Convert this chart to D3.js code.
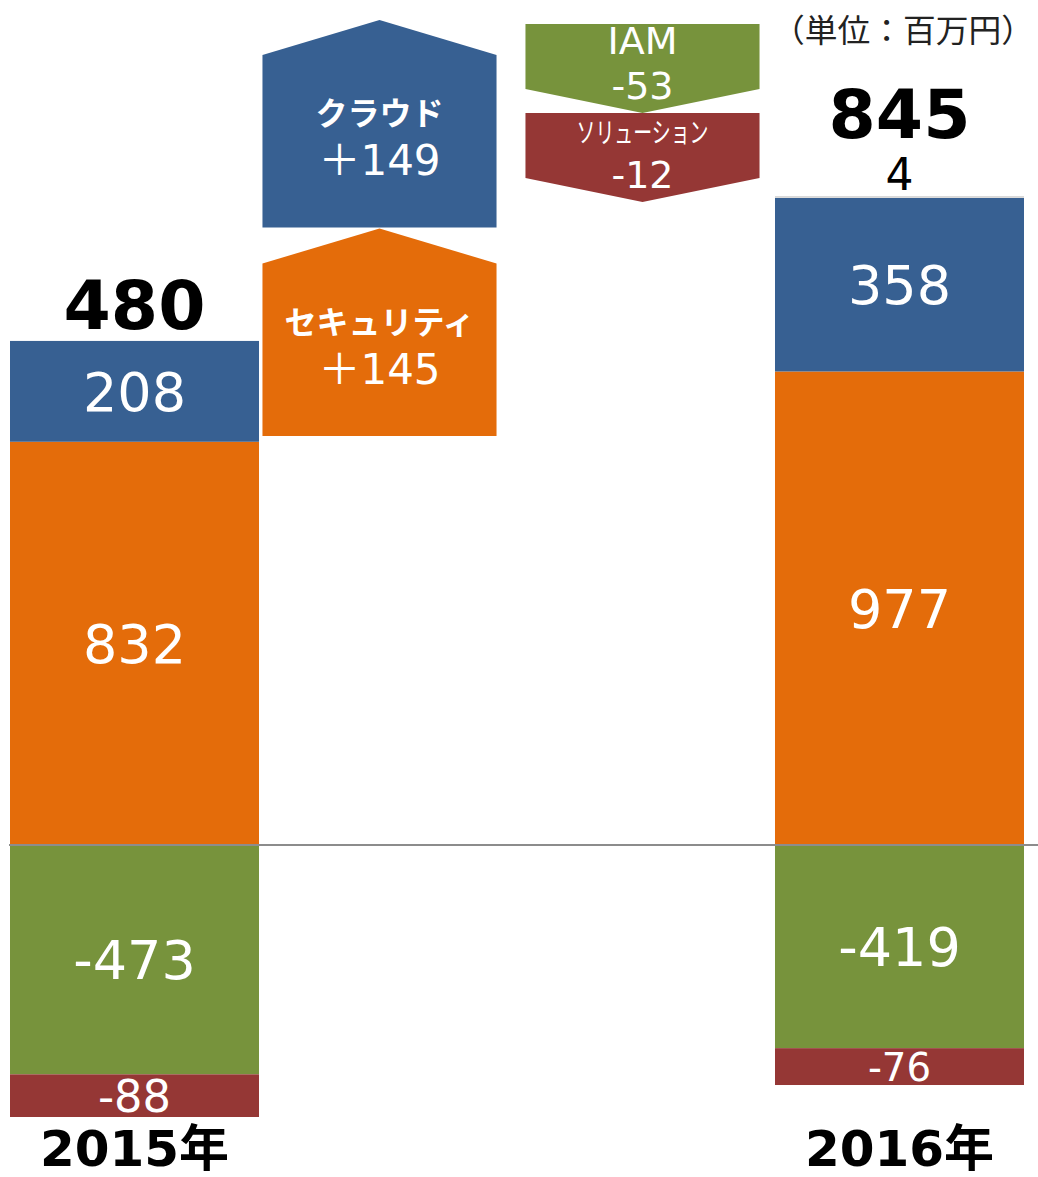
<!DOCTYPE html>
<html>
<head>
<meta charset="utf-8">
<script src="https://cdn.jsdelivr.net/npm/d3@7"></script>
<style>
  body { margin: 0; background: #fff; }
  text { font-family: "DejaVu Sans", "Noto Sans CJK JP", sans-serif; }
</style>
</head>
<body>
<div id="chart"></div>
<script>
// data (百万円)
const years = ["2015年", "2016年"];
const series = ["セキュリティ", "クラウド", "その他", "IAM", "ソリューション"];
const values2015 = [832, 208, 0, -473, -88];
const values2016 = [977, 358, 4, -419, -76];
const totals = [480, 845];
const upLabels = ["クラウド", "セキュリティ"];
const upValues = [149, 145];
const downLabels = ["IAM", "ソリューション"];
const downValues = [-53, -12];
const columns = ["2015年", "up", "down", "2016年"];

const colors = {
  "セキュリティ": "#e46c0a",
  "クラウド": "#376092",
  "その他": "#d9d9d9",
  "IAM": "#77933c",
  "ソリューション": "#953735"
};

const width = 1038, height = 1177;

const svg = d3.select("#chart")
  .append("svg")
  .attr("width", width)
  .attr("height", height);

// stack positive and negative parts separately
const rows = [values2015, values2016].map(function (vals, i) {
  let pos = 0, neg = 0;
  const segs = [];
  vals.forEach(function (v, j) {
    if (v === 0) return;
    let y0, y1;
    if (v > 0) { y0 = pos; pos += v; y1 = pos; }
    else { y0 = neg; neg += v; y1 = neg; }
    segs.push({ year: years[i], key: series[j], value: v, y0: y0, y1: y1 });
  });
  return { year: years[i], segs: segs, top: pos, bottom: neg, total: totals[i] };
});

const x = d3.scaleBand()
  .domain(columns)
  .range([10, 1024])
  .paddingInner(0.0235);

const y = d3.scaleLinear()
  .domain([d3.min(rows, d => d.bottom), d3.max(rows, d => d.top)])
  .range([1117, 196]);

// bars
const bar = svg.append("g");
rows.forEach(function (row) {
  const g = bar.append("g");
  g.selectAll("rect")
    .data(row.segs)
    .enter()
    .append("rect")
    .attr("x", x(row.year))
    .attr("width", x.bandwidth())
    .attr("y", d => Math.min(y(d.y0), y(d.y1)))
    .attr("height", d => Math.abs(y(d.y0) - y(d.y1)))
    .attr("fill", d => colors[d.key]);

  let topY = y(row.top);
  row.segs.forEach(function (d) {
    const h = Math.abs(y(d.y0) - y(d.y1));
    const t = g.append("text")
      .attr("x", x(row.year) + x.bandwidth() / 2)
      .attr("text-anchor", "middle")
      .text(d.value);
    if (h < 30) {
      // too thin for an inner label: put it above the stack
      t.attr("y", topY - 6).attr("fill", "#000").attr("font-size", 44);
      topY -= 46;
    } else {
      t.attr("y", (y(d.y0) + y(d.y1)) / 2)
        .attr("dy", "0.36em")
        .attr("font-size", Math.min(54, h * 1.05))
        .attr("fill", "#fff");
    }
  });

  g.append("text")
    .attr("x", x(row.year) + x.bandwidth() / 2)
    .attr("y", topY - 12)
    .attr("text-anchor", "middle")
    .attr("font-size", 68)
    .attr("font-weight", "bold")
    .attr("fill", "#000")
    .text(row.total);
});

// zero line
svg.append("line")
  .attr("x1", 9)
  .attr("x2", width)
  .attr("y1", y(0))
  .attr("y2", y(0))
  .attr("stroke", "#8c8c8c")
  .attr("stroke-width", 2);

// change arrows (schematic, not to scale)
const aw = x.bandwidth() * 0.94;
const upY = d3.scaleBand().domain(upLabels).range([20, 437]);
const downY = d3.scaleBand().domain(downLabels).range([24, 202]);

upLabels.forEach(function (name, i) {
  const cx = x("up") + x.bandwidth() / 2 - 10;
  const t = upY(name), b = t + upY.bandwidth() - 1, s = t + 35;
  svg.append("path")
    .attr("d", d3.line()([[cx, t], [cx + aw / 2, s], [cx + aw / 2, b], [cx - aw / 2, b], [cx - aw / 2, s]]) + "Z")
    .attr("fill", colors[name]);
  const my = (s + b) / 2;
  svg.append("text")
    .attr("x", cx).attr("y", my - 16)
    .attr("text-anchor", "middle")
    .attr("font-size", 32).attr("font-weight", "bold")
    .attr("fill", "#fff")
    .style("font-family", "'Noto Sans CJK JP'")
    .text(name);
  svg.append("text")
    .attr("x", cx).attr("y", my + 34)
    .attr("text-anchor", "middle")
    .attr("font-size", 42)
    .attr("fill", "#fff")
    .text("＋" + upValues[i]);
});

downLabels.forEach(function (name, i) {
  const cx = x("down") + x.bandwidth() / 2 - 2;
  const t = downY(name), tip = t + downY.bandwidth(), s = tip - 24;
  svg.append("path")
    .attr("d", d3.line()([[cx - aw / 2, t], [cx + aw / 2, t], [cx + aw / 2, s], [cx, tip], [cx - aw / 2, s]]) + "Z")
    .attr("fill", colors[name]);
  const lab = svg.append("text")
    .attr("x", cx).attr("y", t + 30)
    .attr("text-anchor", "middle")
    .attr("fill", "#fff")
    .text(name);
  if (name === "IAM") {
    lab.attr("font-size", 38);
  } else {
    lab.attr("font-size", 28)
      .style("font-family", "'Noto Sans CJK JP'")
      .attr("textLength", 132)
      .attr("lengthAdjust", "spacingAndGlyphs");
  }
  svg.append("text")
    .attr("x", cx).attr("y", t + 75)
    .attr("text-anchor", "middle")
    .attr("font-size", 38)
    .attr("fill", "#fff")
    .text(downValues[i]);
});

// year labels
const xAxis = svg.append("g")
  .attr("transform", "translate(0,1166)")
  .call(d3.axisBottom(x).tickValues(years).tickSize(0).tickPadding(0));
xAxis.select(".domain").remove();
xAxis.selectAll("text")
  .attr("dy", 0)
  .attr("y", 0)
  .attr("font-size", 50)
  .attr("font-weight", "bold")
  .attr("fill", "#000")
  .style("font-family", "'DejaVu Sans', 'Noto Sans CJK JP', sans-serif");

// unit
svg.append("text")
  .attr("x", 1034)
  .attr("y", 42)
  .attr("text-anchor", "end")
  .attr("font-size", 32)
  .attr("fill", "#222")
  .attr("textLength", 262)
  .attr("lengthAdjust", "spacingAndGlyphs")
  .style("font-family", "'Noto Sans CJK JP'")
  .text("（単位：百万円）");
</script>
</body>
</html>
